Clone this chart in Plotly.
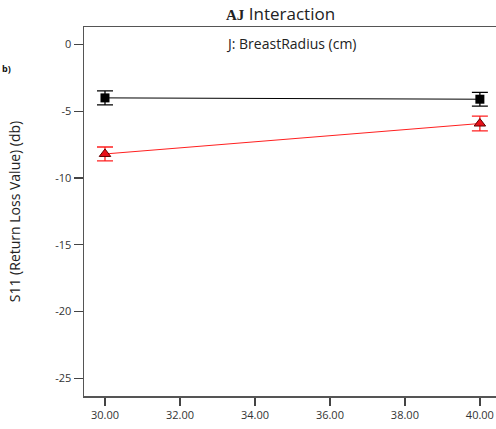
import plotly.graph_objects as go

x_vals = [30, 40]
black_y = [-4.0, -4.1]
black_err = [0.52, 0.52]
red_y = [-8.2, -5.92]
red_err = [0.52, 0.55]
x_ticks = [30, 32, 34, 36, 38, 40]
x_tick_labels = ["30.00", "32.00", "34.00", "36.00", "38.00", "40.00"]
y_ticks = [0, -5, -10, -15, -20, -25]
y_tick_labels = ["0", "-5", "-10", "-15", "-20", "-25"]

fig = go.Figure()
fig.add_trace(go.Scatter(
    x=x_vals, y=black_y, mode="lines+markers",
    line=dict(color="black", width=1),
    marker=dict(symbol="square", size=9, color="black"),
    error_y=dict(type="data", array=black_err, color="black", thickness=1.3, width=8),
    showlegend=False))
fig.add_trace(go.Scatter(
    x=x_vals, y=red_y, mode="lines+markers",
    line=dict(color="#ff2020", width=1),
    marker=dict(symbol="triangle-up", size=10, color="#e8101a", line=dict(color="#600000", width=1)),
    error_y=dict(type="data", array=red_err, color="#ff2020", thickness=1.3, width=8),
    showlegend=False))

W, H = 496, 429
l, r, t, b = 84, 0, 27, 33
pw, ph = W - l - r, H - t - b
def px(xp):
    return (xp - l) / pw
def py(yp):
    return (H - b - yp) / ph

font = "Open Sans, Noto Sans, sans-serif"
fig.update_layout(
    width=W, height=H,
    margin=dict(l=l, r=r, t=t, b=b),
    paper_bgcolor="white", plot_bgcolor="white",
    font=dict(family=font, color="#333"),
    xaxis=dict(range=[29.44, 40.43], tickvals=x_ticks, ticktext=x_tick_labels,
               showgrid=False, zeroline=False, showline=True, linecolor="#555", linewidth=1.5,
               mirror=True, ticks="outside", ticklen=8, tickcolor="#444", tickwidth=1.3,
               tickfont=dict(size=11, color="#333")),
    yaxis=dict(range=[-26.33, 1.31], tickvals=y_ticks, ticktext=y_tick_labels,
               showgrid=False, zeroline=False, showline=True, linecolor="#555", linewidth=1.5,
               ticks="outside", ticklen=9, tickcolor="#444", tickwidth=1.3,
               tickfont=dict(size=11, color="#333"),
               title=dict(text="S11 (Return Loss Value) (db)", font=dict(size=14, color="#222"), standoff=31)),
    annotations=[
        dict(text="<span style='font-family:Liberation Serif;font-size:15px'><b>AJ</b></span> Interaction",
             x=px(280), y=py(14), xref="paper", yref="paper", showarrow=False,
             xanchor="center", yanchor="middle", font=dict(size=17, color="#222")),
        dict(text="J: BreastRadius (cm)", x=px(291), y=py(43), xref="paper", yref="paper",
             xanchor="center", yanchor="middle", showarrow=False, font=dict(size=14, color="#222")),
        dict(text="<b>b)</b>", x=px(0), y=py(68), xref="paper", yref="paper",
             xanchor="left", yanchor="middle", showarrow=False, font=dict(size=9, color="#111")),
    ],
)

fig.write_html("out.html", config={"displayModeBar": False, "staticPlot": True},
               post_script="document.body.style.margin='0';document.body.style.overflow='hidden';")
